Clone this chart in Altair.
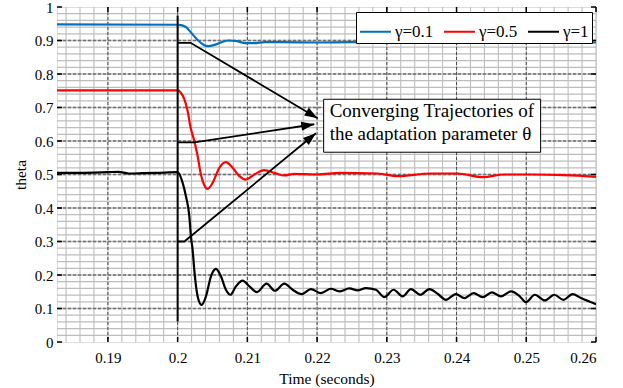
import math
import altair as alt
import pandas as pd

# ---------------- data ----------------
series_names = ["γ=0.1", "γ=0.5", "γ=1"]
series_colors = ["#0072BD", "#FF0000", "#000000"]

blue_t = [0.1827, 0.2000, 0.2005, 0.2012, 0.2020, 0.2028, 0.2036, 0.2044, 0.2053, 0.2063,
          0.2073, 0.2085, 0.2097, 0.2110, 0.2125, 0.215, 0.220, 0.225, 0.230, 0.235,
          0.240, 0.245, 0.250, 0.255, 0.260]
blue_v = [0.948, 0.947, 0.946, 0.940, 0.922, 0.903, 0.889, 0.883, 0.887, 0.895,
          0.900, 0.898, 0.892, 0.892, 0.895, 0.895, 0.894, 0.895, 0.894, 0.895,
          0.894, 0.895, 0.894, 0.894, 0.894]

red_t = [0.1827, 0.2000, 0.20043, 0.20096, 0.20143, 0.20186, 0.20239, 0.20287, 0.20334, 0.20383,
         0.2043, 0.20502, 0.20598, 0.20693, 0.20789, 0.20885, 0.20979, 0.2110, 0.21243, 0.21387,
         0.2153, 0.21673, 0.2200, 0.22337, 0.2287, 0.23155, 0.2363, 0.24015, 0.24374, 0.24685,
         0.25066, 0.25545, 0.2600]
red_v = [0.751, 0.751, 0.745, 0.725, 0.690, 0.640, 0.600, 0.555, 0.500, 0.468,
         0.457, 0.475, 0.520, 0.537, 0.520, 0.495, 0.485, 0.500, 0.513, 0.505,
         0.497, 0.502, 0.500, 0.505, 0.503, 0.495, 0.503, 0.503, 0.492, 0.500,
         0.500, 0.498, 0.493]

black_t = [0.1827, 0.186, 0.190, 0.1915, 0.193, 0.195, 0.197, 0.2000,
           0.20072, 0.20119, 0.20168, 0.20191, 0.20215, 0.20239, 0.20287, 0.20344, 0.20406, 0.20478,
           0.20549, 0.20621, 0.20693, 0.20756, 0.20836, 0.20932, 0.2103, 0.21137, 0.21276, 0.21395,
           0.2153, 0.21649, 0.21778, 0.21912, 0.22055, 0.22198, 0.22319, 0.22462, 0.22581, 0.2270,
           0.22844, 0.22964, 0.23098, 0.23227, 0.23346, 0.23481, 0.2361, 0.23729, 0.23848, 0.23991,
           0.24112, 0.24245, 0.24374, 0.24507, 0.24637, 0.2478, 0.2490, 0.24995, 0.25124, 0.25267,
           0.25402, 0.25531, 0.25665, 0.25784, 0.2600]
black_v = [0.505, 0.505, 0.507, 0.508, 0.503, 0.504, 0.505, 0.507,
           0.475, 0.435, 0.375, 0.315, 0.275, 0.215, 0.136, 0.111, 0.136, 0.196,
           0.218, 0.196, 0.156, 0.141, 0.166, 0.183, 0.166, 0.149, 0.174, 0.153,
           0.174, 0.156, 0.143, 0.158, 0.146, 0.159, 0.151, 0.160, 0.154, 0.161,
           0.156, 0.134, 0.156, 0.136, 0.158, 0.141, 0.158, 0.144, 0.126, 0.143,
           0.131, 0.146, 0.134, 0.148, 0.136, 0.151, 0.138, 0.119, 0.141, 0.124,
           0.141, 0.126, 0.143, 0.131, 0.113]

x_ticks = [0.19, 0.20, 0.21, 0.22, 0.23, 0.24, 0.25, 0.26]
y_ticks = [0, 0.1, 0.2, 0.3, 0.4, 0.5, 0.6, 0.7, 0.8, 0.9, 1.0]

# annotation: vertical marker and three arrows (start of flat segment, elbow, tip)
marker_t = [0.2]
marker_v = [0.061]
marker_v2 = [0.975]
arrow_start_t = [0.2000, 0.2000, 0.2000]
arrow_start_v = [0.893, 0.596, 0.300]
arrow_elbow_t = [0.20186, 0.20239, 0.20096]
arrow_tip_t = [0.22008, 0.21960, 0.21983]
arrow_tip_v = [0.668, 0.650, 0.623]
box_t = [0.22094, 0.25206]
box_v = [0.5665, 0.7246]
note_lines = ["Converging Trajectories of", "the adaptation parameter θ"]
note_t = [0.2218, 0.2218]
note_v = [0.6727, 0.6027]

# ---------------- layout ----------------
W, H = 539, 335
X0, X1 = 0.1827, 0.26
FONT = "Liberation Serif"

xs = alt.Scale(domain=[X0, X1], nice=False, zero=False)
ys = alt.Scale(domain=[0, 1], nice=False, zero=False)

x_axis = alt.Axis(values=x_ticks, format="~g", grid=False, tickSize=0, domain=False,
                  labelOverlap=False, labelFont=FONT, labelFontSize=15, labelColor="black",
                  labelPadding=8, titleFont=FONT, titleFontSize=15.5,
                  titleFontWeight="normal", titleColor="black", titlePadding=6)
y_axis = alt.Axis(values=y_ticks, format="~g", grid=False, tickSize=0, domain=False,
                  labelOverlap=False, labelFont=FONT, labelFontSize=15, labelColor="black",
                  labelPadding=4, titleFont=FONT, titleFontSize=15.5,
                  titleFontWeight="normal", titleColor="black", titlePadding=6)


def X(field):
    return alt.X(field, scale=xs, axis=x_axis, title="Time (seconds)")


def Y(field):
    return alt.Y(field, scale=ys, axis=y_axis, title="theta")


rows = []
for name, ts, vs in [(series_names[0], blue_t, blue_v),
                     (series_names[1], red_t, red_v),
                     (series_names[2], black_t, black_v)]:
    for t, v in zip(ts, vs):
        rows.append({"series": name, "t": t, "v": v})
df = pd.DataFrame(rows)

# grid
minor_x = [round(0.184 + 0.002 * i, 4) for i in range(39)]
minor_y = [round(0.02 * i, 2) for i in range(1, 50)]
major_x = x_ticks[:-1]
major_y = y_ticks[1:-1]

gx_minor = alt.Chart(pd.DataFrame({"t": minor_x})).mark_rule(
    color="#bdbdbd", strokeWidth=1.1).encode(x=X("t:Q"))
gy_minor = alt.Chart(pd.DataFrame({"v": minor_y})).mark_rule(
    color="#bdbdbd", strokeWidth=1.3).encode(y=Y("v:Q"))
gx_major = alt.Chart(pd.DataFrame({"t": major_x})).mark_rule(
    color="#4a4a4a", strokeWidth=1, strokeDash=[3, 2]).encode(x=X("t:Q"))
gy_major = alt.Chart(pd.DataFrame({"v": major_y})).mark_rule(
    color="#707070", strokeWidth=1.3, strokeDash=[3, 2]).encode(y=Y("v:Q"))

# inward ticks
tick_len = 5
tx = pd.DataFrame({"t": x_ticks})
ty = pd.DataFrame({"v": y_ticks})
ticks_b = alt.Chart(tx).mark_rule(color="black", strokeWidth=1.5).encode(
    x=X("t:Q"), y=alt.value(H), y2=alt.value(H - tick_len))
ticks_t = alt.Chart(tx).mark_rule(color="black", strokeWidth=1.5).encode(
    x=X("t:Q"), y=alt.value(0), y2=alt.value(tick_len))
ticks_l = alt.Chart(ty).mark_rule(color="black", strokeWidth=1.5).encode(
    y=Y("v:Q"), x=alt.value(0), x2=alt.value(tick_len))
ticks_r = alt.Chart(ty).mark_rule(color="black", strokeWidth=1.5).encode(
    y=Y("v:Q"), x=alt.value(W), x2=alt.value(W - tick_len))

lines = alt.Chart(df).mark_line(strokeWidth=2.2, interpolate="monotone", clip=True).encode(
    x=X("t:Q"),
    y=Y("v:Q"),
    color=alt.Color("series:N",
                    scale=alt.Scale(domain=series_names, range=series_colors),
                    legend=alt.Legend(orient="none", legendX=299, legendY=5,
                                      direction="horizontal", title=None,
                                      symbolType="stroke", symbolSize=961,
                                      symbolStrokeWidth=2, labelFont=FONT,
                                      labelFontSize=17, labelColor="black",
                                      labelOffset=3, columnPadding=6, padding=3,
                                      strokeColor="black", fillColor="white",
                                      labelLimit=0)),
    order="t:Q",
)

# annotation
marker = alt.Chart(pd.DataFrame({"t": marker_t, "v": marker_v, "v2": marker_v2})).mark_rule(
    color="black", strokeWidth=2).encode(
    x=X("t:Q"), y=Y("v:Q"), y2="v2:Q")

arrow_rows = []
head_rows = []
px_t = W / (X1 - X0)
px_v = H / 1.0
for i in range(3):
    arrow_rows.append({"id": i, "k": 0, "t": arrow_start_t[i], "v": arrow_start_v[i]})
    arrow_rows.append({"id": i, "k": 1, "t": arrow_elbow_t[i], "v": arrow_start_v[i]})
    arrow_rows.append({"id": i, "k": 2, "t": arrow_tip_t[i], "v": arrow_tip_v[i]})
    dx = (arrow_tip_t[i] - arrow_elbow_t[i]) * px_t
    dy = -(arrow_tip_v[i] - arrow_start_v[i]) * px_v
    ang = math.degrees(math.atan2(dy, dx)) % 360
    head_rows.append({"t": arrow_tip_t[i], "v": arrow_tip_v[i], "ang": ang})

arrows = alt.Chart(pd.DataFrame(arrow_rows)).mark_line(color="black", strokeWidth=1.8).encode(
    x=X("t:Q"), y=Y("v:Q"), detail="id:N", order="k:Q")
heads = alt.Chart(pd.DataFrame(head_rows)).mark_point(
    shape="M0,0L-2,-0.7L-2,0.7Z", filled=True, size=169, color="black", opacity=1,
    strokeWidth=0).encode(
    x=X("t:Q"), y=Y("v:Q"), angle=alt.Angle("ang:Q", scale=None))

box = alt.Chart(pd.DataFrame({"t": [box_t[0]], "t2": [box_t[1]],
                              "v": [box_v[0]], "v2": [box_v[1]]})).mark_rect(
    fill="white", stroke="black", strokeWidth=1).encode(
    x=X("t:Q"), x2="t2:Q", y=Y("v:Q"), y2="v2:Q")
note = alt.Chart(pd.DataFrame({"t": note_t, "v": note_v, "txt": note_lines})).mark_text(
    align="left", baseline="alphabetic", font=FONT, fontSize=19, color="black").encode(
    x=X("t:Q"), y=Y("v:Q"), text="txt:N")

chart = alt.layer(
    gx_minor, gy_minor, gx_major, gy_major,
    lines, marker, arrows, heads, box, note,
    ticks_b, ticks_t, ticks_l, ticks_r,
).properties(
    width=W, height=H,
    autosize=alt.AutoSizeParams(type="none"),
    padding={"left": 57, "top": 7, "right": 27, "bottom": 46},
).configure_view(stroke="black", strokeWidth=2.5).configure(
    background="white", font=FONT
).configure_axis(
    labelFont=FONT, titleFont=FONT, labelOverlap=False
).configure_legend(
    labelFont=FONT
)

chart.save("out.html", embed_options={"renderer": "svg", "actions": False})
